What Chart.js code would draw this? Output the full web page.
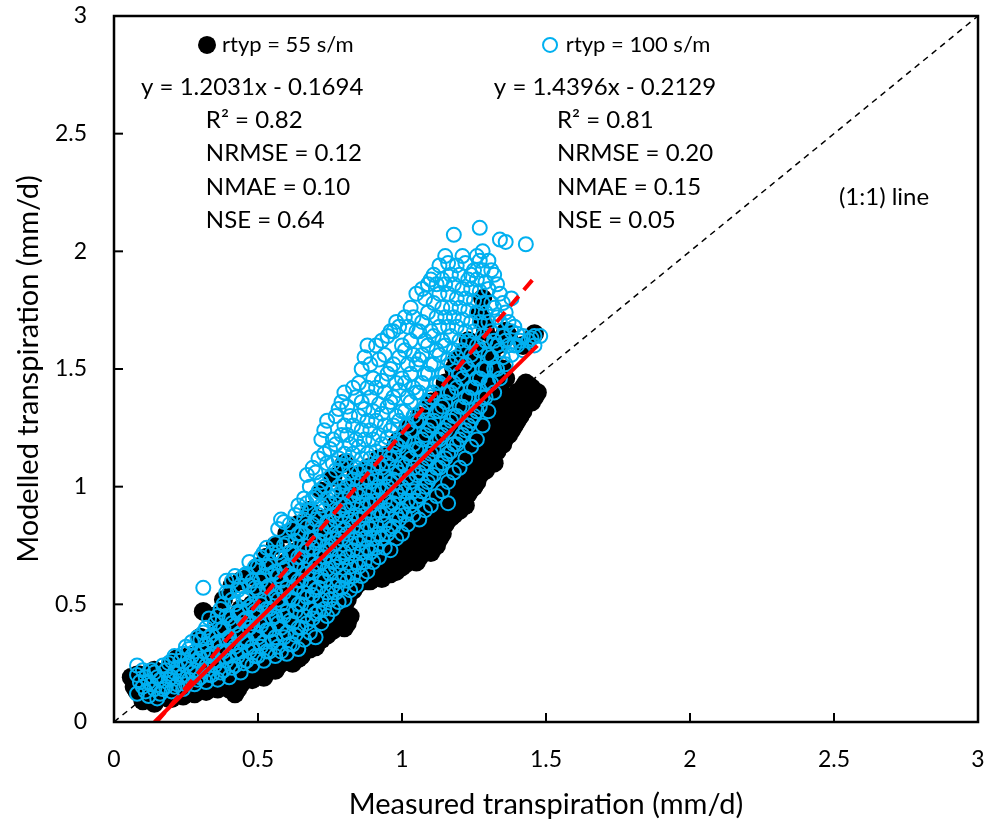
<!DOCTYPE html>
<html><head><meta charset="utf-8">
<script src="https://cdn.jsdelivr.net/npm/chart.js@4.4.0/dist/chart.umd.min.js"></script>
<style>html,body{margin:0;padding:0;background:#fff;}#wrap{width:998px;height:824px;}</style>
</head><body><div id="wrap"><canvas id="c" width="998" height="824"></canvas></div>
<script>
// ---------- data ----------
const xTickValues = [0, 0.5, 1, 1.5, 2, 2.5, 3];
const xTickLabels = ["0", "0.5", "1", "1.5", "2", "2.5", "3"];
const yTickValues = [0, 0.5, 1, 1.5, 2, 2.5, 3];
const yTickLabels = ["0", "0.5", "1", "1.5", "2", "2.5", "3"];
const seriesNames = ["rtyp = 55 s/m", "rtyp = 100 s/m"];
const stats55 = ["y = 1.2031x - 0.1694", "R² = 0.82", "NRMSE = 0.12", "NMAE = 0.10", "NSE = 0.64"];
const stats100 = ["y = 1.4396x - 0.2129", "R² = 0.81", "NRMSE = 0.20", "NMAE = 0.15", "NSE = 0.05"];
const fitSlopes = [1.2031, 1.4396];
const fitIntercepts = [-0.1694, -0.2129];
const fitXEnd = [1.47, 1.47];
const oneToOne = [[0, 0], [3, 3]];

// rtyp = 55 s/m : [measured x, modelled y values read at that x]
const rtyp55 = [
[0.06,[0.19]],[0.07,[0.15]],[0.08,[0.13,0.2]],[0.09,[0.12,0.2]],[0.10,[0.09,0.16]],[0.11,[0.1,0.17]],[0.12,[0.12,0.2]],[0.13,[0.13,0.21]],
[0.14,[0.08,0.15,0.22]],[0.15,[0.1,0.17]],[0.16,[0.11,0.18]],[0.17,[0.12,0.2]],[0.18,[0.14,0.21]],[0.19,[0.1,0.16,0.23]],
[0.20,[0.1,0.17,0.25]],[0.21,[0.12,0.19]],[0.22,[0.13,0.2,0.27]],[0.23,[0.15,0.22]],[0.24,[0.11,0.18,0.25]],[0.25,[0.12,0.2,0.26]],
[0.26,[0.14,0.21,0.28]],[0.27,[0.16,0.24]],[0.28,[0.12,0.19,0.26]],[0.29,[0.13,0.21,0.28]],[0.30,[0.15,0.22,0.3,0.36]],
[0.31,[0.17,0.25,0.47]],[0.32,[0.13,0.2,0.28]],[0.33,[0.14,0.22,0.3]],[0.34,[0.16,0.24,0.32]],[0.35,[0.18,0.27,0.35,0.45]],
[0.36,[0.14,0.22,0.3,0.38]],[0.37,[0.15,0.23,0.31]],[0.38,[0.17,0.25,0.33,0.52]],[0.39,[0.2,0.28,0.36]],
[0.40,[0.14,0.22,0.3,0.38,0.44]],[0.41,[0.16,0.25,0.33,0.41,0.58]],[0.42,[0.12,0.19,0.27,0.35]],[0.43,[0.14,0.21,0.3,0.38]],
[0.44,[0.16,0.24,0.32,0.4,0.48,0.6]],[0.45,[0.18,0.27,0.35,0.43]],[0.46,[0.2,0.28,0.36,0.44]],[0.47,[0.22,0.31,0.4,0.48,0.62]],
[0.48,[0.18,0.26,0.34,0.42,0.5]],[0.49,[0.2,0.29,0.38,0.46]],[0.50,[0.22,0.3,0.38,0.46,0.55,0.66]],[0.51,[0.24,0.33,0.42,0.5]],
[0.52,[0.19,0.27,0.35,0.43,0.52,0.6]],[0.53,[0.21,0.3,0.39,0.48,0.57,0.7]],[0.54,[0.23,0.31,0.39,0.47,0.56]],[0.55,[0.26,0.35,0.44,0.52]],
[0.56,[0.22,0.3,0.38,0.46,0.55,0.64,0.75]],[0.57,[0.24,0.33,0.42,0.51,0.6]],[0.58,[0.25,0.33,0.41,0.5,0.6]],[0.59,[0.28,0.37,0.46,0.55,0.64]],
[0.60,[0.26,0.34,0.42,0.5,0.58,0.68,0.8]],[0.61,[0.27,0.36,0.45,0.54,0.63]],[0.62,[0.25,0.33,0.41,0.5,0.6,0.72]],[0.63,[0.29,0.38,0.47,0.57,0.67]],
[0.64,[0.27,0.35,0.44,0.53,0.62,0.84]],[0.65,[0.28,0.37,0.46,0.55,0.64,0.74]],[0.66,[0.3,0.38,0.47,0.56,0.66,0.78]],[0.67,[0.33,0.42,0.51,0.61,0.71]],
[0.68,[0.31,0.4,0.49,0.58,0.68,0.9]],[0.69,[0.34,0.43,0.53,0.63,0.74]],[0.70,[0.32,0.41,0.5,0.6,0.7,0.82]],[0.71,[0.36,0.45,0.55,0.65,0.76]],
[0.72,[0.35,0.44,0.53,0.63,0.74,0.86,0.98]],[0.73,[0.39,0.48,0.58,0.68,0.79]],[0.74,[0.37,0.46,0.56,0.66,0.77]],[0.75,[0.41,0.5,0.6,0.7,0.82]],
[0.76,[0.39,0.48,0.58,0.68,0.8,0.92,1.04]],[0.77,[0.44,0.53,0.63,0.73,0.84]],[0.78,[0.42,0.5,0.6,0.7,0.82]],[0.79,[0.46,0.55,0.65,0.75,0.86,0.94]],
[0.80,[0.4,0.5,0.6,0.7,0.8,0.9,0.98,1.1]],[0.81,[0.42,0.52,0.62,0.72,0.82,0.92]],[0.82,[0.45,0.56,0.66,0.76,0.86]],[0.83,[0.56,0.62,0.72,0.82,0.92,1.0]],
[0.84,[0.58,0.66,0.76,0.86,0.96,1.05]],[0.85,[0.59,0.65,0.75,0.85,0.95]],[0.86,[0.6,0.68,0.78,0.88,0.98]],[0.87,[0.61,0.7,0.8,0.9,1.0]],
[0.88,[0.6,0.7,0.8,0.9,1.0,1.08]],[0.89,[0.6,0.66,0.76,0.86,0.96,1.06]],[0.90,[0.62,0.7,0.8,0.9,1.0]],[0.91,[0.63,0.73,0.83,0.93,1.03]],
[0.92,[0.62,0.72,0.82,0.92,1.02,1.12]],[0.93,[0.61,0.69,0.79,0.89,0.99,1.09]],[0.94,[0.64,0.74,0.84,0.94,1.04]],[0.95,[0.66,0.76,0.86,0.96,1.06]],
[0.96,[0.63,0.72,0.82,0.92,1.02,1.14]],[0.97,[0.65,0.73,0.83,0.93,1.03,1.13]],[0.98,[0.64,0.74,0.84,0.94,1.04,1.18]],[0.99,[0.68,0.78,0.88,0.98,1.08,1.2]],
[1.00,[0.66,0.76,0.86,0.96,1.06,1.16]],[1.01,[0.67,0.75,0.85,0.95,1.05,1.15]],[1.02,[0.68,0.78,0.88,0.98,1.08,1.25]],[1.03,[0.7,0.82,0.92,1.02,1.12,1.22]],
[1.04,[0.72,0.8,0.9,1.0,1.1,1.2]],[1.05,[0.68,0.78,0.88,0.98,1.08,1.2]],[1.06,[0.7,0.8,0.9,1.0,1.12,1.3]],[1.07,[0.73,0.86,0.96,1.06,1.18,1.28]],
[1.08,[0.74,0.84,0.94,1.04,1.16,1.26]],[1.09,[0.76,0.82,0.92,1.02,1.12,1.24]],[1.10,[0.72,0.82,0.92,1.02,1.14,1.36]],[1.11,[0.74,0.88,0.98,1.1,1.22,1.34]],
[1.12,[0.75,0.86,0.96,1.08,1.2]],[1.13,[0.78,0.92,1.04,1.16,1.28]],[1.14,[0.8,0.9,1.0,1.12,1.24,1.4]],[1.15,[0.84,0.94,1.06,1.18,1.3,1.44]],
[1.16,[0.86,0.96,1.06,1.18,1.3]],[1.17,[0.87,1.0,1.12,1.24,1.36]],[1.18,[0.88,0.98,1.1,1.22,1.34,1.5]],[1.19,[0.9,1.02,1.14,1.26,1.4,1.54]],
[1.20,[0.9,1.0,1.12,1.24,1.36]],[1.21,[0.92,1.06,1.18,1.3,1.44]],[1.22,[0.92,1.04,1.16,1.28,1.42,1.58]],[1.23,[0.97,1.08,1.2,1.32,1.5,1.62]],
[1.24,[0.99,1.1,1.22,1.34,1.46]],[1.25,[1.0,1.12,1.24,1.36,1.48,1.6]],[1.26,[1.02,1.14,1.26,1.38,1.52]],[1.27,[1.05,1.16,1.28,1.4,1.56,1.74]],
[1.28,[1.08,1.2,1.32,1.44,1.7,1.8]],[1.29,[1.07,1.18,1.3,1.42,1.54,1.66]],[1.30,[1.1,1.22,1.34,1.48]],[1.31,[1.12,1.26,1.4,1.56]],
[1.32,[1.1,1.24,1.38,1.52,1.62]],[1.33,[1.15,1.28,1.44,1.6]],[1.34,[1.2,1.3,1.42]],[1.35,[1.18,1.36,1.5]],[1.36,[1.21,1.32,1.46,1.66]],
[1.37,[1.22,1.34,1.64]],[1.38,[1.24,1.36]],[1.39,[1.26,1.38]],[1.40,[1.28,1.4]],[1.41,[1.3,1.38]],[1.42,[1.32,1.42,1.6]],
[1.43,[1.35,1.44]],[1.44,[1.37,1.43]],[1.45,[1.36,1.42]],[1.46,[1.38,1.65]],[1.47,[1.4]]
];

// rtyp = 100 s/m : [measured x, modelled y values read at that x]
const rtyp100 = [
[0.08,[0.12,0.2,0.24]],[0.09,[0.17]],[0.10,[0.15,0.22]],[0.11,[0.13,0.19]],[0.12,[0.11,0.17]],[0.13,[0.16,0.22]],[0.14,[0.14,0.21]],
[0.15,[0.1,0.19]],[0.16,[0.12,0.18]],[0.17,[0.14,0.24]],[0.18,[0.15,0.22]],[0.19,[0.18,0.25]],[0.20,[0.13,0.19,0.26]],[0.21,[0.15,0.21,0.28]],
[0.22,[0.16,0.23]],[0.23,[0.19,0.26]],[0.24,[0.14,0.2,0.29]],[0.25,[0.16,0.24,0.32]],[0.26,[0.18,0.25,0.31]],[0.27,[0.21,0.28,0.34]],
[0.28,[0.16,0.22,0.3]],[0.29,[0.18,0.26,0.36]],[0.30,[0.19,0.27,0.35]],[0.31,[0.22,0.3,0.38,0.57]],[0.32,[0.17,0.24,0.33,0.4]],
[0.33,[0.2,0.28,0.36,0.44]],[0.34,[0.2,0.29,0.37]],[0.35,[0.24,0.33,0.42]],[0.36,[0.18,0.26,0.34,0.45]],[0.37,[0.21,0.3,0.39,0.48]],
[0.38,[0.22,0.3,0.4,0.5]],[0.39,[0.26,0.35,0.45,0.55,0.6]],[0.40,[0.19,0.28,0.36,0.44,0.55]],[0.41,[0.23,0.33,0.42,0.52,0.6]],
[0.42,[0.24,0.32,0.41,0.5,0.62]],[0.43,[0.28,0.37,0.46,0.56]],[0.44,[0.21,0.3,0.38,0.47,0.58]],[0.45,[0.25,0.34,0.43,0.52,0.62]],
[0.46,[0.26,0.35,0.44,0.53,0.63]],[0.47,[0.3,0.4,0.49,0.58,0.68]],[0.48,[0.24,0.32,0.42,0.5,0.6]],[0.49,[0.28,0.38,0.47,0.57,0.66]],
[0.50,[0.28,0.36,0.46,0.56,0.66]],[0.51,[0.32,0.41,0.5,0.6,0.7]],[0.52,[0.26,0.34,0.43,0.52,0.62,0.72]],[0.53,[0.3,0.39,0.48,0.57,0.66,0.74]],
[0.54,[0.3,0.39,0.48,0.58,0.68]],[0.55,[0.34,0.44,0.53,0.63,0.72]],[0.56,[0.28,0.36,0.45,0.55,0.64,0.76]],[0.57,[0.32,0.42,0.52,0.62,0.72,0.82]],
[0.58,[0.3,0.4,0.5,0.6,0.7,0.86]],[0.59,[0.36,0.45,0.55,0.65,0.75,0.85]],[0.60,[0.29,0.38,0.47,0.57,0.66,0.76]],[0.61,[0.33,0.43,0.53,0.63,0.72,0.84]],
[0.62,[0.33,0.42,0.52,0.62,0.72,0.82]],[0.63,[0.37,0.47,0.57,0.67,0.77,0.88]],[0.64,[0.31,0.4,0.5,0.6,0.7,0.8,0.92]],[0.65,[0.4,0.5,0.6,0.7,0.8,0.9]],
[0.66,[0.35,0.45,0.55,0.65,0.75,0.86,0.95]],[0.67,[0.42,0.53,0.63,0.73,0.83,0.93,1.05]],[0.68,[0.38,0.48,0.58,0.68,0.78,0.9,1.0]],
[0.69,[0.44,0.54,0.64,0.74,0.84,0.95,1.08]],[0.70,[0.36,0.46,0.56,0.66,0.76,0.86,0.96,1.06]],[0.71,[0.47,0.57,0.67,0.77,0.88,0.98,1.12]],
[0.72,[0.42,0.52,0.62,0.72,0.82,0.92,1.02,1.2]],[0.73,[0.48,0.6,0.7,0.8,0.9,1.0,1.14,1.24]],[0.74,[0.45,0.55,0.65,0.75,0.85,0.95,1.1,1.28]],
[0.75,[0.52,0.63,0.73,0.83,0.93,1.04,1.16]],[0.76,[0.48,0.58,0.68,0.78,0.88,0.98,1.1,1.2]],[0.77,[0.55,0.66,0.76,0.86,0.96,1.07,1.18,1.3]],
[0.78,[0.51,0.6,0.7,0.8,0.9,1.0,1.12,1.33]],[0.79,[0.57,0.68,0.78,0.88,0.98,1.09,1.22,1.36]],[0.80,[0.52,0.62,0.72,0.82,0.92,1.02,1.14,1.26,1.4]],
[0.81,[0.6,0.7,0.8,0.9,1.0,1.11,1.22,1.34]],[0.82,[0.56,0.66,0.76,0.86,0.96,1.06,1.18,1.3]],[0.83,[0.62,0.73,0.83,0.93,1.03,1.14,1.26,1.42]],
[0.84,[0.58,0.68,0.78,0.88,0.98,1.08,1.2,1.38]],[0.85,[0.66,0.76,0.86,0.96,1.06,1.17,1.3,1.44]],[0.86,[0.62,0.72,0.82,0.92,1.02,1.12,1.24,1.36,1.5]],
[0.87,[0.68,0.78,0.88,0.98,1.08,1.2,1.33,1.55]],[0.88,[0.64,0.74,0.84,0.94,1.04,1.14,1.28,1.42,1.6]],[0.89,[0.72,0.82,0.92,1.02,1.12,1.24,1.38,1.52]],
[0.90,[0.68,0.78,0.88,0.98,1.08,1.2,1.32,1.46]],[0.91,[0.74,0.84,0.94,1.04,1.15,1.28,1.42,1.6]],[0.92,[0.7,0.8,0.9,1.0,1.1,1.22,1.35,1.54]],
[0.93,[0.78,0.88,0.98,1.08,1.18,1.31,1.45,1.62]],[0.94,[0.74,0.84,0.94,1.04,1.14,1.26,1.4,1.56]],[0.95,[0.8,0.9,1.0,1.1,1.21,1.34,1.48,1.64]],
[0.96,[0.73,0.82,0.92,1.02,1.12,1.24,1.36,1.5,1.66]],[0.97,[0.83,0.93,1.03,1.14,1.26,1.38,1.52,1.66]],[0.98,[0.78,0.88,0.98,1.08,1.18,1.3,1.44,1.7]],
[0.99,[0.86,0.96,1.06,1.17,1.28,1.41,1.55,1.68]],[1.00,[0.8,0.9,1.0,1.1,1.2,1.32,1.46,1.6]],[1.01,[0.88,0.98,1.09,1.2,1.32,1.44,1.58,1.72]],
[1.02,[0.84,0.94,1.04,1.14,1.26,1.38,1.52,1.68]],[1.03,[0.92,1.02,1.12,1.24,1.36,1.48,1.62,1.76]],[1.04,[0.88,0.98,1.08,1.18,1.3,1.42,1.56,1.72]],
[1.05,[0.94,1.05,1.16,1.28,1.4,1.52,1.66,1.82]],[1.06,[0.86,0.96,1.06,1.16,1.28,1.4,1.54,1.66]],[1.07,[0.98,1.08,1.2,1.32,1.44,1.56,1.7,1.84]],
[1.08,[0.9,1.0,1.1,1.22,1.34,1.48,1.62,1.8]],[1.09,[1.02,1.12,1.24,1.36,1.48,1.6,1.74,1.86]],[1.10,[0.92,1.04,1.14,1.26,1.38,1.52,1.66,1.88]],
[1.11,[1.05,1.16,1.28,1.4,1.52,1.64,1.78,1.9]],[1.12,[0.96,1.08,1.2,1.32,1.44,1.58,1.72,1.86]],[1.13,[1.08,1.2,1.32,1.44,1.56,1.68,1.82,1.94]],
[1.14,[0.98,1.1,1.22,1.34,1.48,1.62,1.76,1.88]],[1.15,[1.12,1.24,1.36,1.48,1.6,1.72,1.86,1.98]],[1.16,[0.93,1.02,1.14,1.26,1.4,1.54,1.68,1.82,1.95]],
[1.17,[1.15,1.28,1.4,1.52,1.64,1.76,1.9]],[1.18,[1.06,1.18,1.3,1.44,1.58,1.72,1.86,2.07]],[1.19,[1.18,1.3,1.42,1.55,1.68,1.8,1.94]],
[1.20,[1.08,1.2,1.34,1.48,1.62,1.76,1.9]],[1.21,[1.22,1.34,1.46,1.58,1.71,1.84,1.98]],[1.22,[1.12,1.24,1.38,1.52,1.66,1.8,1.95]],
[1.23,[1.26,1.38,1.5,1.62,1.75,1.88]],[1.24,[1.17,1.28,1.42,1.56,1.7,1.84,1.9]],[1.25,[1.3,1.42,1.54,1.66,1.79,1.92]],
[1.26,[1.2,1.32,1.46,1.6,1.74,1.88,1.98]],[1.27,[1.34,1.46,1.58,1.7,1.83,1.96,2.1]],[1.28,[1.26,1.38,1.5,1.64,1.78,1.92,2.0]],
[1.29,[1.38,1.5,1.62,1.74,1.87]],[1.30,[1.32,1.44,1.56,1.7,1.84,1.96]],[1.31,[1.44,1.55,1.66,1.78,1.92]],[1.32,[1.4,1.5,1.62,1.76,1.9]],
[1.33,[1.5,1.6,1.72,1.86]],[1.34,[1.46,1.58,1.7,1.82,2.05]],[1.35,[1.55,1.64,1.78]],[1.36,[1.52,1.62,1.74,2.04]],[1.37,[1.6,1.7]],
[1.38,[1.56,1.66,1.8]],[1.39,[1.6,1.68]],[1.40,[1.6,1.65]],[1.41,[1.62]],[1.42,[1.58,1.64]],[1.43,[2.03]],[1.44,[1.62]],
[1.45,[1.63]],[1.46,[1.6,1.64]],[1.48,[1.64]]
];

// ---------- chart ----------
const FONT = "Lato, 'Open Sans', sans-serif";
const toXY = cols => cols.flatMap(c => c[1].map(v => ({x: c[0], y: v})));
const fitLine = i => {
  const x0 = -fitIntercepts[i] / fitSlopes[i];
  return [{x: x0, y: 0}, {x: fitXEnd[i], y: fitSlopes[i] * fitXEnd[i] + fitIntercepts[i]}];
};

const decor = {
  id: 'decor',
  afterDraw(chart) {
    const {ctx, chartArea: a, scales: {x, y}} = chart;
    ctx.save();
    ctx.strokeStyle = '#000'; ctx.lineWidth = 2;
    xTickValues.forEach(v => { const px = x.getPixelForValue(v); ctx.beginPath(); ctx.moveTo(px, a.bottom); ctx.lineTo(px, a.bottom - 9); ctx.stroke(); });
    yTickValues.forEach(v => { const py = y.getPixelForValue(v); ctx.beginPath(); ctx.moveTo(a.left, py); ctx.lineTo(a.left + 9, py); ctx.stroke(); });
    ctx.lineWidth = 2.5;
    ctx.strokeRect(a.left, a.top, a.right - a.left, a.bottom - a.top);
    ctx.fillStyle = '#000';
    ctx.font = "29px " + FONT;
    ctx.textAlign = 'center'; ctx.textBaseline = 'alphabetic';
    ctx.fillText('Measured transpiration (mm/d)', (a.left + a.right) / 2, 814);
    ctx.save();
    ctx.translate(38, (a.top + a.bottom) / 2);
    ctx.rotate(-Math.PI / 2);
    ctx.fillText('Modelled transpiration (mm/d)', 0, 0);
    ctx.restore();
    ctx.textAlign = 'left'; ctx.textBaseline = 'middle';
    ctx.font = "22px " + FONT;
    let mx = x.getPixelForValue(0.323), my = y.getPixelForValue(2.877);
    ctx.beginPath(); ctx.arc(mx, my, 9, 0, Math.PI * 2); ctx.fillStyle = '#000'; ctx.fill();
    ctx.fillText(seriesNames[0], x.getPixelForValue(0.375), my);
    mx = x.getPixelForValue(1.514);
    ctx.beginPath(); ctx.arc(mx, my, 7, 0, Math.PI * 2); ctx.strokeStyle = '#00B0F0'; ctx.lineWidth = 2; ctx.stroke();
    ctx.fillText(seriesNames[1], x.getPixelForValue(1.569), my);
    ctx.font = "24px " + FONT;
    const rows = [2.698, 2.558, 2.418, 2.273, 2.133];
    stats55.forEach((t, i) => ctx.fillText(t, x.getPixelForValue(i === 0 ? 0.094 : 0.319), y.getPixelForValue(rows[i])));
    stats100.forEach((t, i) => ctx.fillText(t, x.getPixelForValue(i === 0 ? 1.319 : 1.538), y.getPixelForValue(rows[i])));
    ctx.fillText('(1:1) line', x.getPixelForValue(2.517), y.getPixelForValue(2.231));
    ctx.restore();
  }
};

new Chart(document.getElementById('c'), {
  type: 'scatter',
  data: {
    datasets: [
      {label: 'fit55', type: 'line', data: fitLine(0), borderColor: '#FF0000', borderWidth: 4, pointRadius: 0, fill: false, order: 0},
      {label: 'fit100', type: 'line', data: fitLine(1), borderColor: '#FF0000', borderWidth: 4, borderDash: [13, 8], pointRadius: 0, fill: false, order: 0},
      {label: seriesNames[1], data: toXY(rtyp100), pointRadius: 7, pointBorderWidth: 2, borderColor: '#00B0F0', backgroundColor: 'rgba(0,0,0,0)', pointBackgroundColor: 'rgba(0,0,0,0)', order: 1},
      {label: seriesNames[0], data: toXY(rtyp55), pointRadius: 9.5, pointBorderWidth: 0, borderColor: '#000', backgroundColor: '#000', order: 2},
      {label: '1:1', type: 'line', data: oneToOne.map(p => ({x: p[0], y: p[1]})), borderColor: '#000', borderWidth: 1.5, borderDash: [6, 5], pointRadius: 0, fill: false, order: 3}
    ]
  },
  options: {
    responsive: false, animation: false, devicePixelRatio: 1,
    layout: {padding: {top: 16, right: 20, left: 0, bottom: 0}},
    plugins: {legend: {display: false}, tooltip: {enabled: false}},
    scales: {
      x: {type: 'linear', min: 0, max: 3,
          afterBuildTicks: s => { s.ticks = xTickValues.map(v => ({value: v})); },
          afterFit: s => { s.height = 102; s.paddingLeft = 0; s.paddingRight = 0; },
          grid: {display: false, drawTicks: false}, border: {display: false},
          ticks: {padding: 24, color: '#000', font: {family: FONT, size: 23},
                  callback: v => xTickLabels[xTickValues.indexOf(v)]}},
      y: {type: 'linear', min: 0, max: 3,
          afterBuildTicks: s => { s.ticks = yTickValues.map(v => ({value: v})); },
          afterFit: s => { s.width = 114; s.paddingTop = 0; s.paddingBottom = 0; },
          grid: {display: false, drawTicks: false}, border: {display: false},
          ticks: {padding: 27, color: '#000', font: {family: FONT, size: 23},
                  callback: v => yTickLabels[yTickValues.indexOf(v)]}}
    }
  },
  plugins: [decor]
});
</script></body></html>
